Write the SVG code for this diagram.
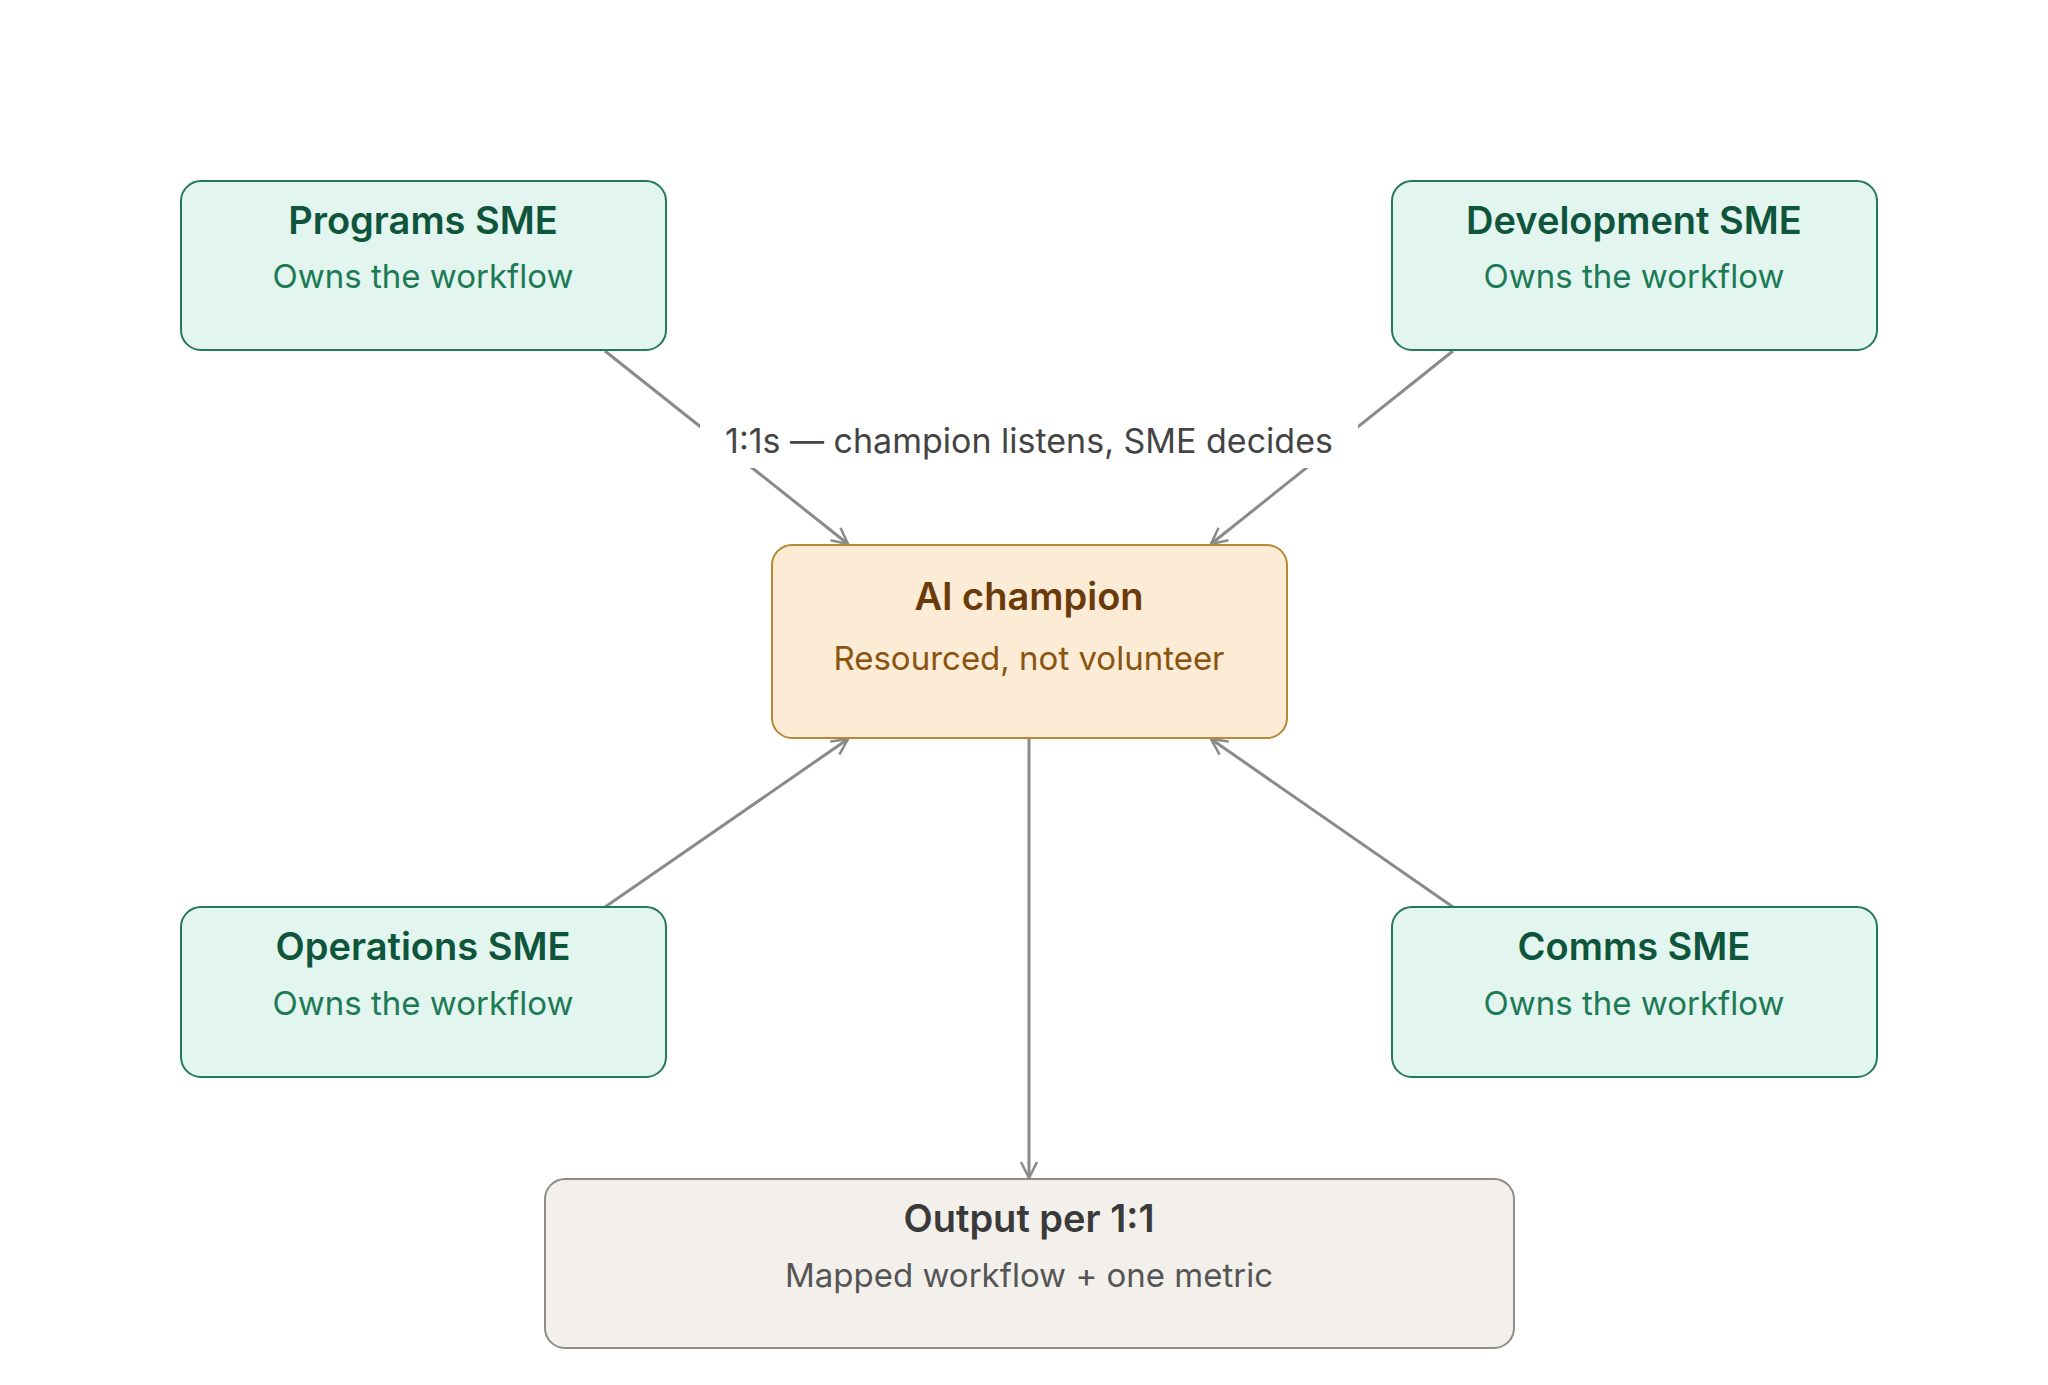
<svg xmlns="http://www.w3.org/2000/svg" width="2048" height="1385" viewBox="0 0 2048 1385">
<style>
.t{font-family:Inter,"Liberation Sans",sans-serif;text-anchor:middle}
.h{font-size:38px;font-weight:600}
.s{font-size:33px}
.g rect{fill:#e2f5ee;stroke:#237a57;stroke-width:2}
.g .h{fill:#0e553b}.g .s{fill:#1c7a55}
.e{stroke:#8a8a8a;stroke-width:3;fill:none;marker-end:url(#a)}
</style>
<defs><marker id="a" viewBox="0 0 20 20" refX="18" refY="10" markerWidth="20" markerHeight="20" markerUnits="userSpaceOnUse" orient="auto"><path d="M2,2 L18,10 L2,18" fill="none" stroke="#8a8a8a" stroke-width="2.5"/></marker></defs>
<rect width="2048" height="1385" fill="#fff"/>
<g id="connectors">
<line class="e" x1="605" y1="351" x2="848" y2="544"/>
<line class="e" x1="1453" y1="351" x2="1211" y2="544"/>
<line class="e" x1="605" y1="907" x2="848" y2="739"/>
<line class="e" x1="1453" y1="907" x2="1211" y2="739"/>
<line class="e" x1="1029" y1="738" x2="1029" y2="1178"/>
<rect x="700" y="420" width="658" height="48" fill="#fff"/>
<text class="t" x="1029" y="453" font-size="34" fill="#444">1:1s — champion listens, SME decides</text>
</g>
<g id="programs" class="g"><rect x="181" y="181" width="485" height="169" rx="20"/><text class="t h" x="423" y="234">Programs SME</text><text class="t s" x="423" y="288">Owns the workflow</text></g>
<g id="development" class="g"><rect x="1392" y="181" width="485" height="169" rx="20"/><text class="t h" x="1634" y="234">Development SME</text><text class="t s" x="1634" y="288">Owns the workflow</text></g>
<g id="operations" class="g"><rect x="181" y="907" width="485" height="170" rx="20"/><text class="t h" x="423" y="960">Operations SME</text><text class="t s" x="423" y="1015">Owns the workflow</text></g>
<g id="comms" class="g"><rect x="1392" y="907" width="485" height="170" rx="20"/><text class="t h" x="1634" y="960">Comms SME</text><text class="t s" x="1634" y="1015">Owns the workflow</text></g>
<g id="champion"><rect x="772" y="545" width="515" height="193" rx="20" fill="#fcebd5" stroke="#b58a35" stroke-width="2"/><text class="t h" x="1029" y="610" fill="#6a3a0a">AI champion</text><text class="t s" x="1029" y="670" fill="#8a5410">Resourced, not volunteer</text></g>
<g id="output"><rect x="545" y="1179" width="969" height="169" rx="20" fill="#f3f0eb" stroke="#8c8c8c" stroke-width="2"/><text class="t h" x="1029" y="1232" fill="#3a3a3a">Output per 1:1</text><text class="t s" x="1029" y="1287" fill="#555">Mapped workflow + one metric</text></g>
</svg>
